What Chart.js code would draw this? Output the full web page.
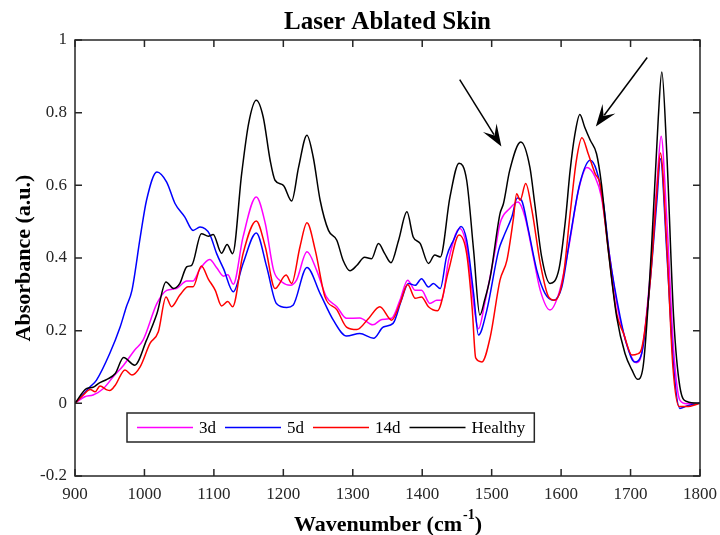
<!DOCTYPE html>
<html>
<head>
<meta charset="utf-8">
<script src="https://cdn.jsdelivr.net/npm/chart.js@4.4.1/dist/chart.umd.min.js"></script>
<style>
  html, body { margin: 0; padding: 0; background: #fff; }
</style>
</head>
<body>
<canvas id="chart" width="720" height="535"></canvas>
<script>
// values
const wn3d = [900, 914, 926, 941, 955, 970, 986, 998, 1018, 1032, 1046, 1061, 1070, 1080, 1094, 1104, 1114, 1120, 1128, 1142, 1161, 1174, 1186, 1198, 1210, 1219, 1234, 1248, 1262, 1277, 1291, 1310, 1329, 1342, 1356, 1368, 1379, 1390, 1399, 1411, 1421, 1428, 1438, 1454, 1464, 1476, 1481, 1490, 1505, 1512, 1526, 1538, 1548, 1560, 1570, 1584, 1598, 1611, 1625, 1637, 1649, 1658, 1670, 1682, 1690, 1699, 1708, 1716, 1728, 1738, 1744, 1752, 1762, 1771, 1781, 1800];
const abs3d = [0, 0.018, 0.023, 0.041, 0.073, 0.105, 0.147, 0.174, 0.275, 0.311, 0.316, 0.337, 0.337, 0.37, 0.396, 0.373, 0.35, 0.354, 0.328, 0.458, 0.568, 0.495, 0.366, 0.334, 0.325, 0.339, 0.417, 0.366, 0.293, 0.266, 0.234, 0.235, 0.216, 0.231, 0.234, 0.284, 0.339, 0.311, 0.311, 0.275, 0.284, 0.284, 0.394, 0.481, 0.431, 0.247, 0.205, 0.275, 0.421, 0.495, 0.536, 0.554, 0.513, 0.403, 0.311, 0.257, 0.311, 0.43, 0.586, 0.649, 0.623, 0.568, 0.403, 0.256, 0.192, 0.137, 0.112, 0.137, 0.348, 0.605, 0.735, 0.513, 0.147, 0.009, -0.001, 0];

const wn5d = [900, 921, 931, 950, 965, 974, 982, 994, 1003, 1018, 1032, 1044, 1058, 1070, 1080, 1094, 1104, 1114, 1128, 1142, 1161, 1176, 1190, 1205, 1214, 1234, 1253, 1272, 1291, 1310, 1330, 1344, 1358, 1370, 1380, 1390, 1399, 1409, 1416, 1426, 1435, 1445, 1456, 1464, 1474, 1481, 1493, 1510, 1517, 1529, 1537, 1543, 1553, 1565, 1577, 1589, 1601, 1613, 1627, 1642, 1651, 1661, 1670, 1685, 1694, 1706, 1716, 1728, 1738, 1743, 1752, 1762, 1771, 1781, 1800];
const abs5d = [0, 0.044, 0.064, 0.137, 0.21, 0.266, 0.311, 0.458, 0.559, 0.637, 0.609, 0.55, 0.513, 0.476, 0.485, 0.465, 0.412, 0.37, 0.307, 0.385, 0.469, 0.376, 0.275, 0.264, 0.27, 0.374, 0.302, 0.229, 0.185, 0.192, 0.179, 0.21, 0.22, 0.284, 0.33, 0.325, 0.343, 0.32, 0.33, 0.316, 0.403, 0.449, 0.487, 0.449, 0.302, 0.188, 0.256, 0.421, 0.458, 0.513, 0.565, 0.559, 0.476, 0.366, 0.302, 0.284, 0.32, 0.458, 0.605, 0.669, 0.641, 0.55, 0.403, 0.238, 0.165, 0.114, 0.137, 0.33, 0.559, 0.673, 0.421, 0.1, -0.014, -0.007, 0];

const wn14d = [900, 912, 922, 929, 936, 946, 950, 958, 972, 982, 994, 1008, 1020, 1031, 1039, 1051, 1063, 1070, 1082, 1092, 1102, 1111, 1120, 1127, 1142, 1161, 1174, 1188, 1204, 1212, 1224, 1234, 1246, 1260, 1277, 1291, 1306, 1322, 1339, 1356, 1368, 1379, 1390, 1399, 1409, 1422, 1438, 1453, 1464, 1472, 1477, 1486, 1498, 1512, 1522, 1531, 1536, 1541, 1549, 1558, 1570, 1582, 1591, 1603, 1613, 1622, 1630, 1639, 1649, 1656, 1668, 1680, 1690, 1702, 1710, 1716, 1728, 1738, 1743, 1752, 1761, 1770, 1781, 1800];
const abs14d = [0, 0.023, 0.038, 0.032, 0.048, 0.037, 0.035, 0.05, 0.092, 0.078, 0.101, 0.165, 0.197, 0.293, 0.266, 0.298, 0.321, 0.321, 0.378, 0.342, 0.311, 0.268, 0.28, 0.266, 0.412, 0.502, 0.431, 0.316, 0.353, 0.33, 0.431, 0.497, 0.421, 0.293, 0.258, 0.21, 0.203, 0.232, 0.266, 0.229, 0.275, 0.327, 0.289, 0.293, 0.266, 0.255, 0.366, 0.463, 0.412, 0.26, 0.125, 0.114, 0.183, 0.339, 0.394, 0.504, 0.577, 0.559, 0.605, 0.531, 0.385, 0.293, 0.284, 0.348, 0.522, 0.669, 0.731, 0.687, 0.632, 0.605, 0.421, 0.247, 0.192, 0.133, 0.136, 0.151, 0.33, 0.586, 0.689, 0.44, 0.1, -0.009, -0.009, 0];

const wnHealthy = [900, 917, 926, 934, 946, 958, 970, 986, 1003, 1018, 1031, 1042, 1051, 1061, 1068, 1082, 1092, 1099, 1111, 1119, 1127, 1140, 1150, 1161, 1171, 1181, 1188, 1200, 1212, 1222, 1234, 1243, 1253, 1265, 1277, 1286, 1296, 1306, 1317, 1327, 1337, 1346, 1355, 1366, 1378, 1387, 1397, 1409, 1418, 1426, 1440, 1453, 1464, 1474, 1483, 1490, 1498, 1512, 1517, 1526, 1542, 1555, 1562, 1572, 1584, 1597, 1606, 1613, 1620, 1627, 1634, 1642, 1651, 1658, 1668, 1680, 1692, 1702, 1710, 1718, 1730, 1740, 1745, 1752, 1762, 1771, 1781, 1800];
const absHealthy = [0, 0.041, 0.044, 0.055, 0.066, 0.082, 0.126, 0.105, 0.174, 0.247, 0.334, 0.316, 0.33, 0.376, 0.38, 0.467, 0.46, 0.465, 0.413, 0.437, 0.412, 0.632, 0.77, 0.834, 0.788, 0.669, 0.614, 0.6, 0.557, 0.65, 0.738, 0.678, 0.559, 0.476, 0.449, 0.394, 0.365, 0.38, 0.402, 0.398, 0.44, 0.412, 0.387, 0.449, 0.527, 0.458, 0.44, 0.385, 0.408, 0.403, 0.568, 0.661, 0.614, 0.421, 0.243, 0.285, 0.348, 0.522, 0.55, 0.641, 0.719, 0.65, 0.55, 0.403, 0.33, 0.37, 0.5, 0.641, 0.742, 0.795, 0.76, 0.724, 0.687, 0.605, 0.421, 0.238, 0.137, 0.092, 0.066, 0.1, 0.421, 0.788, 0.912, 0.696, 0.238, 0.046, 0.005, 0];

const seriesLabels = ['3d', '5d', '14d', 'Healthy'];
const xTicks = [900, 1000, 1100, 1200, 1300, 1400, 1500, 1600, 1700, 1800];
const yTicks = [-0.2, 0, 0.2, 0.4, 0.6, 0.8, 1];

// arrows: [tail wavenumber, tail absorbance, tip wavenumber, tip absorbance]
const arrows = [
  [1454, 0.891, 1514, 0.707],
  [1724, 0.952, 1650, 0.762]
];

const SERIF = "'Liberation Serif', 'Times New Roman', serif";
const AXIS = '#262626';

function pts(xs, ys) {
  return xs.map((x, i) => ({ x: x, y: ys[i] }));
}

const colors = ['#ff00ff', '#0000ff', '#ff0000', '#000000'];
const series = [[wn3d, abs3d], [wn5d, abs5d], [wn14d, abs14d], [wnHealthy, absHealthy]];

const datasets = series.map((s, i) => ({
  label: seriesLabels[i],
  data: pts(s[0], s[1]),
  borderColor: colors[i],
  borderWidth: 1.5,
  pointRadius: 0,
  fill: false,
  cubicInterpolationMode: 'monotone',
  order: series.length - i   // later series drawn on top, like matlab
}));

const framePlugin = {
  id: 'frame',
  afterDatasetsDraw(chart) {
    const ctx = chart.ctx;
    const xs = chart.scales.x, ys = chart.scales.y;

    // arrows
    ctx.save();
    ctx.strokeStyle = '#000';
    ctx.fillStyle = '#000';
    ctx.lineWidth = 1.5;
    arrows.forEach(ar => {
      const x0 = xs.getPixelForValue(ar[0]), y0 = ys.getPixelForValue(ar[1]);
      const x1 = xs.getPixelForValue(ar[2]), y1 = ys.getPixelForValue(ar[3]);
      const c = Math.cos(Math.atan2(y1 - y0, x1 - x0)), s = Math.sin(Math.atan2(y1 - y0, x1 - x0));
      const len = 20, half = 8;
      const bx = x1 - len * c, by = y1 - len * s;
      ctx.beginPath();
      ctx.moveTo(x0, y0);
      ctx.lineTo(bx + 6 * c, by + 6 * s);
      ctx.stroke();
      ctx.beginPath();
      ctx.moveTo(x1, y1);
      ctx.lineTo(bx - half * s - 2 * c, by + half * c - 2 * s);
      ctx.lineTo(bx + 7 * c, by + 7 * s);
      ctx.lineTo(bx + half * s - 2 * c, by - half * c - 2 * s);
      ctx.closePath();
      ctx.fill();
    });
    ctx.restore();

    // legend box inside the axes
    ctx.save();
    ctx.font = '17px ' + SERIF;
    const lx = 127, ly = 413, lh = 29;
    let x = lx + 10;
    const items = chart.data.datasets.map(ds => {
      const it = { x: x, ds: ds };
      x += 62 + ctx.measureText(ds.label).width + 9;
      return it;
    });
    const lw = x - lx;
    ctx.fillStyle = '#fff';
    ctx.fillRect(lx, ly, lw, lh);
    ctx.strokeStyle = AXIS;
    ctx.lineWidth = 1.5;
    ctx.strokeRect(lx, ly, lw, lh);
    const cy = ly + lh / 2;
    items.forEach(it => {
      ctx.strokeStyle = it.ds.borderColor;
      ctx.lineWidth = 1.5;
      ctx.beginPath();
      ctx.moveTo(it.x, cy);
      ctx.lineTo(it.x + 56, cy);
      ctx.stroke();
      ctx.fillStyle = '#000';
      ctx.textBaseline = 'middle';
      ctx.fillText(it.ds.label, it.x + 62, cy + 1);
    });
    ctx.restore();
  },
  afterDraw(chart) {
    const ctx = chart.ctx;
    const a = chart.chartArea;
    const xs = chart.scales.x, ys = chart.scales.y;
    ctx.save();
    ctx.strokeStyle = AXIS;
    ctx.lineWidth = 1.5;
    ctx.strokeRect(a.left, a.top, a.right - a.left, a.bottom - a.top);
    const t = 7;
    ctx.beginPath();
    xTicks.forEach(v => {
      const px = xs.getPixelForValue(v);
      ctx.moveTo(px, a.bottom); ctx.lineTo(px, a.bottom - t);
      ctx.moveTo(px, a.top); ctx.lineTo(px, a.top + t);
    });
    yTicks.forEach(v => {
      const py = ys.getPixelForValue(v);
      ctx.moveTo(a.left, py); ctx.lineTo(a.left + t, py);
      ctx.moveTo(a.right, py); ctx.lineTo(a.right - t, py);
    });
    ctx.stroke();

    const cx = (a.left + a.right) / 2;
    ctx.fillStyle = '#000';
    ctx.textBaseline = 'alphabetic';

    // title, centred over the axes
    ctx.font = 'bold 25px ' + SERIF;
    ctx.textAlign = 'center';
    ctx.fillText('Laser Ablated Skin', cx, 29);

    // x axis title with superscript
    ctx.textAlign = 'left';
    const big = 'bold 22px ' + SERIF, small = 'bold 14px ' + SERIF;
    const p1 = 'Wavenumber (cm', p2 = '-1', p3 = ')';
    ctx.font = big; const w1 = ctx.measureText(p1).width, w3 = ctx.measureText(p3).width;
    ctx.font = small; const w2 = ctx.measureText(p2).width;
    let tx = cx - (w1 + w2 + w3) / 2;
    const base = 531;
    ctx.font = big; ctx.fillText(p1, tx, base); tx += w1;
    ctx.font = small; ctx.fillText(p2, tx + 1, base - 12); tx += w2 + 1;
    ctx.font = big; ctx.fillText(p3, tx, base);
    ctx.restore();
  }
};

new Chart(document.getElementById('chart'), {
  type: 'line',
  data: { datasets: datasets },
  options: {
    responsive: false,
    animation: false,
    layout: { padding: { left: 0, right: 20, top: 40, bottom: 0 } },
    plugins: {
      legend: { display: false },
      tooltip: { enabled: false },
      title: { display: false }
    },
    scales: {
      x: {
        type: 'linear',
        min: 900,
        max: 1800,
        afterBuildTicks: s => { s.ticks = xTicks.map(v => ({ value: v })); },
        ticks: {
          callback: v => String(v),
          color: AXIS,
          font: { family: SERIF, size: 17 },
          padding: 0,
          maxRotation: 0
        },
        grid: { display: false },
        border: { display: false },
        afterFit: s => { s.height = 59; s.paddingLeft = 0; s.paddingRight = 0; }
      },
      y: {
        type: 'linear',
        min: -0.2,
        max: 1,
        afterBuildTicks: s => { s.ticks = yTicks.map(v => ({ value: v })); },
        ticks: {
          callback: v => String(Number(v.toFixed(1))),
          color: AXIS,
          font: { family: SERIF, size: 17 },
          padding: 0
        },
        title: {
          display: true,
          text: 'Absorbance (a.u.)',
          color: '#000',
          font: { family: SERIF, size: 22, weight: 'bold' },
          padding: { top: 11, bottom: 0 }
        },
        grid: { display: false },
        border: { display: false },
        afterFit: s => { s.width = 75; s.paddingTop = 0; s.paddingBottom = 0; }
      }
    }
  },
  plugins: [framePlugin]
});
</script>
</body>
</html>
